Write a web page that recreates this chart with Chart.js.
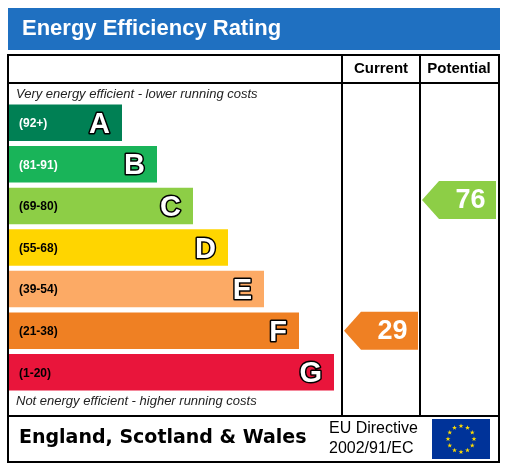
<!DOCTYPE html>
<html><head><meta charset="utf-8">
<script src="https://cdn.jsdelivr.net/npm/chart.js@4"></script>
<style>html,body{margin:0;padding:0;background:#fff}#w{position:relative;width:509px;height:467px}</style>
</head><body><div id="w"><canvas id="c" width="509" height="467"></canvas></div>
<script>
const bands = ['A','B','C','D','E','F','G'];
const ranges = ['(92+)','(81-91)','(69-80)','(55-68)','(39-54)','(21-38)','(1-20)'];
const barLengths = [113,148,184,219,255,290,325];
const colors = ['#008054','#19b459','#8dce46','#ffd500','#fcaa65','#ef8023','#e9153b'];
const rangeTextColors = ['#fff','#fff','#000','#000','#000','#000','#000'];
const currentRating = 29, currentBand = 'F';
const potentialRating = 76, potentialBand = 'C';

const deco = {
  id:'deco',
  beforeDatasetsDraw(ch){
    const c = ch.ctx;
    c.save();
    c.fillStyle='#1f70c1'; c.fillRect(8,8,492,42);
    c.fillStyle='#fff'; c.font='bold 22px Arial, "Liberation Sans"'; c.textBaseline='middle';
    c.fillText('Energy Efficiency Rating',22,29);
    c.strokeStyle='#000'; c.lineWidth=2;
    c.strokeRect(8,55,491,407);
    c.beginPath();
    c.moveTo(8,83);c.lineTo(499,83);
    c.moveTo(8,416);c.lineTo(499,416);
    c.moveTo(342,55);c.lineTo(342,416);
    c.moveTo(420,55);c.lineTo(420,416);
    c.stroke();
    c.fillStyle='#000'; c.font='bold 15px Arial, "Liberation Sans"'; c.textAlign='center';
    c.fillText('Current',381,69); c.fillText('Potential',459,69);
    c.textAlign='left'; c.font='italic 13px Arial, "Liberation Sans"'; c.fillStyle='#222';
    c.fillText('Very energy efficient - lower running costs',16,94);
    c.fillText('Not energy efficient - higher running costs',16,401);
    c.fillStyle='#000'; c.font='bold 19px "DejaVu Sans"';
    c.fillText('England, Scotland & Wales',19,438);
    c.font='16px Arial, "Liberation Sans"';
    c.fillText('EU Directive',329,429); c.fillText('2002/91/EC',329,449);
    c.fillStyle='#003399'; c.fillRect(432,419,58,40);
    c.fillStyle='#ffdd00';
    for(let i=0;i<12;i++){const a=i*Math.PI/6;star(c,461+13*Math.sin(a),439-13*Math.cos(a),2.6);}
    c.restore();
  },
  afterDatasetsDraw(ch){
    const c=ch.ctx, y=ch.scales.y, meta=ch.getDatasetMeta(0);
    c.save(); c.textBaseline='middle';
    meta.data.forEach((b,i)=>{
      c.font='bold 12px Arial, "Liberation Sans"'; c.fillStyle=rangeTextColors[i]; c.textAlign='left';
      c.fillText(ranges[i],19,b.y+1);
      c.font='bold 29px Arial, "Liberation Sans"'; c.textAlign='right';
      c.lineWidth=3; c.strokeStyle='#000'; c.lineJoin='round';
      c.strokeText(bands[i],b.x-12,b.y+2); c.fillStyle='#fff'; c.fillText(bands[i],b.x-12,b.y+2);
    });
    const arrow=(x0,x1,band,val,dy)=>{
      const i=bands.indexOf(band), yc=y.getPixelForValue(i)+dy, h=19;
      c.fillStyle=colors[i]; c.beginPath();
      c.moveTo(x0,yc);c.lineTo(x0+17,yc-h);c.lineTo(x1,yc-h);c.lineTo(x1,yc+h);c.lineTo(x0+17,yc+h);c.closePath();c.fill();
      c.fillStyle='#fff'; c.font='bold 27px Arial, "Liberation Sans"'; c.textAlign='center';
      c.fillText(String(val),(x0+17+x1)/2+3,yc+1);
    };
    arrow(344,418,currentBand,currentRating,0);
    arrow(422,496,potentialBand,potentialRating,-6);
    c.restore();
  }
};
function star(c,x,y,r){c.beginPath();for(let k=0;k<10;k++){const rr=k%2?r*0.4:r,a=k*Math.PI/5-Math.PI/2;c.lineTo(x+rr*Math.cos(a),y+rr*Math.sin(a));}c.closePath();c.fill();}

new Chart(document.getElementById('c'),{
  type:'bar',
  data:{labels:bands,datasets:[{data:barLengths,backgroundColor:colors,barPercentage:36/41,categoryPercentage:1}]},
  options:{indexAxis:'y',responsive:false,animation:false,
    layout:{padding:{left:9,right:166,top:102,bottom:74}},
    plugins:{legend:{display:false},tooltip:{enabled:false}},
    scales:{x:{display:false,min:0,max:334},y:{display:false}}},
  plugins:[deco]
});
</script></body></html>
